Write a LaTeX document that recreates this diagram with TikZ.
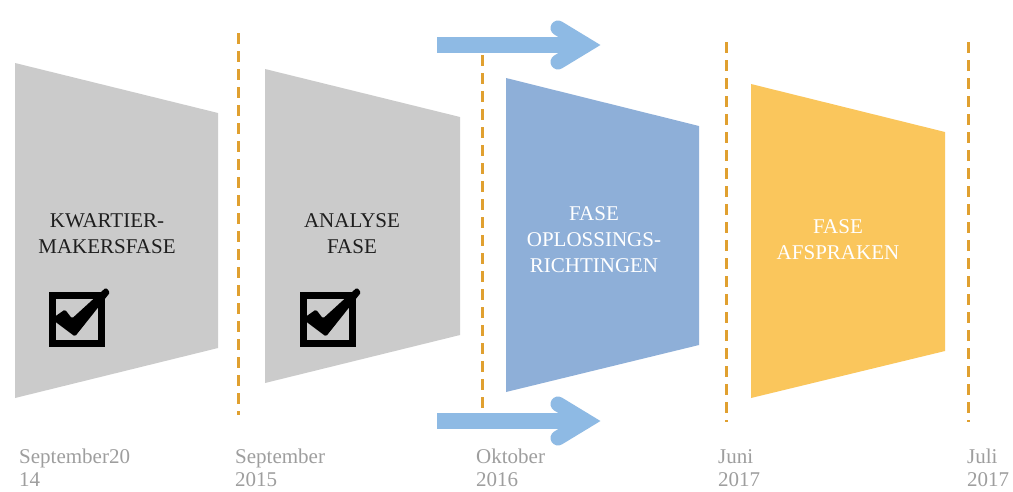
\documentclass[tikz,border=0pt]{standalone}
\usepackage{fontspec}
\setmainfont{Liberation Serif}
\definecolor{phasegray}{RGB}{203,203,203}
\definecolor{phaseblue}{RGB}{142,175,216}
\definecolor{arrowblue}{RGB}{142,186,228}
\definecolor{phaseyellow}{RGB}{250,198,92}
\definecolor{mileorange}{RGB}{224,160,48}
\definecolor{labelgray}{RGB}{158,158,158}
\definecolor{darktext}{RGB}{30,30,30}
\begin{document}
\begin{tikzpicture}[x=1pt,y=-1pt,
  milestone/.style={draw=mileorange,line width=3pt,dash pattern=on 11pt off 7pt},
  phasetext/.style={inner sep=0pt,align=center,font=\fontsize{21}{26}\selectfont},
  datelabel/.style={inner sep=0pt,align=left,text=labelgray,anchor=north west,font=\fontsize{21}{23}\selectfont},
  shaft/.style={draw=arrowblue,line width=16pt},
  chevron/.style={draw=arrowblue,line width=15pt,line cap=round,line join=miter},
  chk/.pic={
    \draw[line width=7pt,black] (-24.5,-24) rectangle (24.5,24);
    \fill[black,rounded corners=1.5pt] (-22,-3) -- (-12,-10) -- (-5,-1) -- (29,-32) -- (33,-27) -- (-2,17) -- (-22,2) -- cycle;
  }]
\useasboundingbox (0,0) rectangle (1013,491);
\fill[white] (0,0) rectangle (1013,491);

% milestone lines
\draw[milestone] (238,33) -- (238,415);
\draw[milestone] (482,55) -- (482,413);
\draw[milestone] (726,42) -- (726,422);
\draw[milestone] (968,42) -- (968,422);

% phases
\fill[phasegray] (15,63) -- (218,113) -- (218,348) -- (15,398) -- cycle;
\fill[phasegray] (265,69) -- (460,117) -- (460,335) -- (265,383) -- cycle;
\fill[phaseblue] (506,78) -- (699,126) -- (699,345) -- (506,392) -- cycle;
\fill[phaseyellow] (751,84) -- (945,132) -- (945,351) -- (751,398) -- cycle;

% arrows
\draw[shaft] (437,45) -- (588,45);
\draw[chevron] (558,28) -- (586,45) -- (558,62);
\draw[shaft] (437,421) -- (588,421);
\draw[chevron] (558,404) -- (586,421) -- (558,438);

% phase texts
\node[phasetext,text=darktext,anchor=north] (kw) at (107,213) {KWARTIER-\\MAKERSFASE};
\node[phasetext,text=darktext,anchor=north] (an) at (352,213) {ANALYSE\\FASE};
\node[phasetext,text=white,anchor=north] (op) at (594,206) {FASE\\OPLOSSINGS-\\RICHTINGEN};
\node[phasetext,text=white,anchor=north] (af) at (838,219) {FASE\\AFSPRAKEN};

% check boxes
\pic at (77,319.5) {chk};
\pic at (328,319.5) {chk};

% dates
\node[datelabel] (d1) at (19,449) {September20\\14};
\node[datelabel] (d2) at (235,449) {September\\2015};
\node[datelabel] (d3) at (476,449) {Oktober\\2016};
\node[datelabel] (d4) at (718,449) {Juni\\2017};
\node[datelabel] (d5) at (967,449) {Juli\\2017};
\end{tikzpicture}
\end{document}
